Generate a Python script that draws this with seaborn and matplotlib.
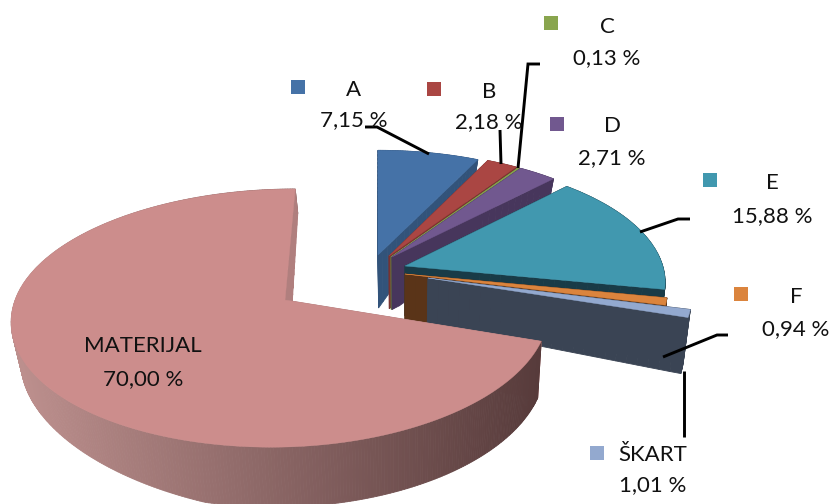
import numpy as np
import matplotlib
matplotlib.use("Agg")
import matplotlib.pyplot as plt
from matplotlib.colors import to_rgb
import seaborn as sns

# ---- data ----
categories = ["A", "B", "C", "D", "E", "F", "ŠKART", "MATERIJAL"]
values = [7.15, 2.18, 0.13, 2.71, 15.88, 0.94, 1.01, 70.00]
value_labels = ["7,15 %", "2,18 %", "0,13 %", "2,71 %", "15,88 %", "0,94 %", "1,01 %", "70,00 %"]

# ---- styling and layout ----
top_colors = sns.color_palette(["#4572A7", "#AA4643", "#89A54E", "#71588F",
                                "#4198AF", "#DB843D", "#93A9CF", "#CC8D8C"])
wall_colors = sns.color_palette(["#32537A", "#7A3230", "#657A3A", "#47365C",
                                 "#193B47", "#5A3418", "#3A4454", "#B07F7E"])
apex_px = [(378, 255), (389, 256), (391, 257), (392, 257),
           (405, 266), (405, 274), (428, 278), (285, 300)]
legend_key_px = [(298, 87), (434, 89), (551, 23), (557, 124),
                 (710, 180), (741, 294), (597, 453), None]
label_px = [(354, 90, 120), (489, 92, 122), (607, 27, 58), (612, 126, 158),
            (772, 183, 216), (796, 297, 329), (653, 455, 485), (143, 346, 379)]
leaders_px = [[(365, 127), (377, 127), (429, 154)],
              [(500, 130), (501, 164)],
              [(540, 64), (528, 64), (518, 168)],
              [(690, 219), (678, 219), (640, 232)],
              [(728, 335), (717, 335), (663, 357)],
              [(684, 371), (684, 437)]]

VX, VY, RX, RY, K = 378.0, 286.0, 263.0, 125.0, 0.125
MAT_STRETCH_LEFT, MAT_STRETCH_RIGHT, MAT_STRETCH_BACK = 1.012, 0.985, 0.97


def project(X, Y):
    s = 1.0 / (1.0 - K * Y)
    return VX + RX * X * s, VY + RY * Y * s


def unproject(x, y):
    Y = (y - VY) / (RY + K * (y - VY))
    X = (x - VX) * (1.0 - K * Y) / RX
    return X, Y


def extrude(x, y):
    f = np.interp(y, [160, 255, 278, 317, 450], [12, 53, 46, 56, 60])
    g = np.interp(x, [10, 200], [0.7, 1.0])
    return x + (400.0 - x) * 0.025, y + f * g


sns.set_theme(style="white")
plt.rcParams["font.family"] = ["Lato", "DejaVu Sans"]
fig, ax = plt.subplots(figsize=(8.32, 5.04), dpi=100)
fig.subplots_adjust(0, 0, 1, 1)
ax.set_xlim(0, 832)
ax.set_ylim(504, 0)
ax.set_axis_off()

angles = np.cumsum([0.0] + values) / 100.0 * 2 * np.pi
shade_a, shade_b = np.array(to_rgb("#BC8F8D")), np.array(to_rgb("#573B3B"))

for i, name in enumerate(categories):
    px, py = unproject(*apex_px[i])
    th = np.linspace(angles[i], angles[i + 1], max(3, int(values[i] * 6)))
    u = np.sin(th)
    v = -np.cos(th)
    if name == "MATERIJAL":
        u = u * np.where(u < 0, MAT_STRETCH_LEFT, MAT_STRETCH_RIGHT)
        v = v * np.where(v < 0, MAT_STRETCH_BACK, 1.0)
    X = np.r_[px, px + u, px]
    Y = np.r_[py, py + v, py]
    # refine the straight cut edges so the extrusion follows perspective
    n = 25
    X = np.r_[np.linspace(X[0], X[1], n), X[1:-1], np.linspace(X[-2], X[-1], n)]
    Y = np.r_[np.linspace(Y[0], Y[1], n), Y[1:-1], np.linspace(Y[-2], Y[-1], n)]
    x, y = project(X, Y)
    xb, yb = extrude(x, y)
    for j in range(len(x) - 1):
        c = wall_colors[i]
        if name == "MATERIJAL" and n <= j < len(x) - n:
            t = np.clip((x[j] - 20) / 520.0, 0, 1)
            c = tuple(shade_a + (shade_b - shade_a) * t)
        ax.fill([x[j], x[j + 1], xb[j + 1], xb[j]],
                [y[j], y[j + 1], yb[j + 1], yb[j]],
                color=c, lw=0.6, zorder=2 + i)
    ax.fill(x, y, color=top_colors[i], lw=0.3, zorder=2.5 + i)

for pts in leaders_px:
    a = np.array(pts)
    ax.plot(a[:, 0], a[:, 1], color="black", lw=2.1, zorder=20,
            solid_capstyle="butt", solid_joinstyle="miter")

for i, name in enumerate(categories):
    lx, y1, y2 = label_px[i]
    ax.text(lx, y1, name, ha="center", va="center", fontsize=16, color="#111111", zorder=21)
    ax.text(lx, y2, value_labels[i], ha="center", va="center", fontsize=16, color="#111111", zorder=21)
    if legend_key_px[i] is not None:
        kx, ky = legend_key_px[i]
        ax.scatter([kx], [ky], marker="s", s=115, color=top_colors[i], linewidths=0, zorder=21)

fig.savefig("out.png", dpi=100, facecolor="white")
